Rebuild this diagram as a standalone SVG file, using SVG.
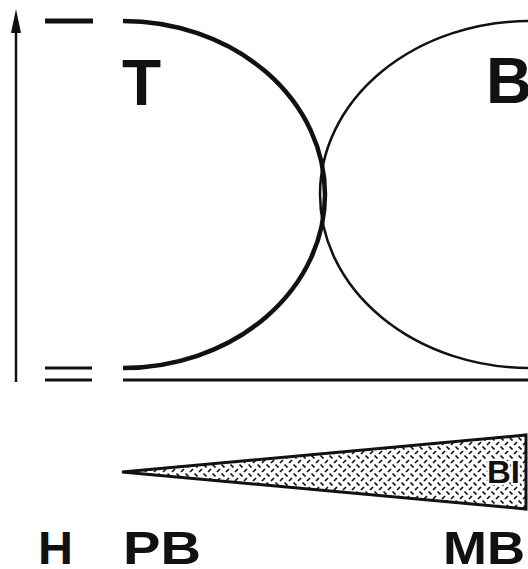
<svg xmlns="http://www.w3.org/2000/svg" width="528" height="569" viewBox="0 0 528 569">
<style>
.lbl{font-family:"Liberation Sans",Arial,sans-serif;font-weight:bold;fill:#111}
.ln{stroke:#111;fill:none;stroke-linecap:butt}
</style>
<defs>
<pattern id="hatch" width="9" height="9" patternUnits="userSpaceOnUse">
<rect width="9" height="9" fill="#fff"/>
<line x1="1" y1="4" x2="4" y2="1" stroke="#111" stroke-width="1.7"/>
<line x1="5.5" y1="5.5" x2="8.5" y2="8.5" stroke="#111" stroke-width="1.7"/>
</pattern>
</defs>
<rect width="528" height="569" fill="#fff"/>
<g id="axis">
<line class="ln" x1="16" y1="382" x2="16" y2="30" stroke-width="2.5"/>
<polygon points="16,9 11,33 21,33" fill="#111"/>
</g>
<g id="ticks">
<line class="ln" x1="45" y1="21" x2="93" y2="21" stroke-width="5"/>
<line class="ln" x1="45" y1="368" x2="92" y2="368" stroke-width="3"/>
<line class="ln" x1="45" y1="380" x2="92" y2="380" stroke-width="3"/>
</g>
<g id="connectors">
<path id="curve-T" class="ln" d="M123,21 A202,173.5 0 0 1 123,368" stroke-width="4.5"/>
<path id="curve-B" class="ln" d="M530,21 A210,173.5 0 0 0 530,368" stroke-width="2.5"/>
<line class="ln" x1="123" y1="380" x2="528" y2="380" stroke-width="3"/>
</g>
<g id="wedge">
<polygon points="122,472 526,435 526,509" fill="url(#hatch)" stroke="#111" stroke-width="3" stroke-linejoin="miter"/>
<text class="lbl" x="487" y="483" font-size="32" stroke="#fff" stroke-width="4" paint-order="stroke" textLength="33" lengthAdjust="spacingAndGlyphs">BI</text>
</g>
<g id="node-T"><text class="lbl" x="122" y="105" font-size="64">T</text></g>
<g id="node-B"><text class="lbl" x="486" y="103" font-size="64">B</text></g>
<g id="node-H"><text class="lbl" x="38" y="564" font-size="46" textLength="35" lengthAdjust="spacingAndGlyphs">H</text></g>
<g id="node-PB"><text class="lbl" x="123" y="564" font-size="46" textLength="78" lengthAdjust="spacingAndGlyphs">PB</text></g>
<g id="node-MB"><text class="lbl" x="443" y="564" font-size="46" textLength="82" lengthAdjust="spacingAndGlyphs">MB</text></g>
</svg>
